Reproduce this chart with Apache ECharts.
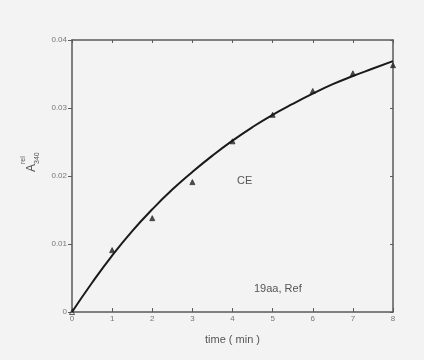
<!DOCTYPE html>
<html>
<head>
<meta charset="utf-8">
<script src="https://cdn.jsdelivr.net/npm/echarts@6/dist/echarts.min.js"></script>
<style>
  html, body { margin: 0; padding: 0; background: #f3f3f3; }
  #chart { width: 424px; height: 360px; }
</style>
</head>
<body>
<div id="chart"></div>
<script>
  // measured points (time in min, absorbance)
  var times = [0, 1, 2, 3, 4, 5, 6, 7, 8];
  var absorb = [0, 0.0091, 0.0138, 0.0191, 0.0251, 0.029, 0.0325, 0.0351, 0.0363];

  // fitted curve
  var fitTimes = [0, 0.5, 1, 1.5, 2, 2.5, 3, 3.5, 4, 4.5, 5, 5.5, 6, 6.5, 7, 7.5, 8];
  var fitValues = [0, 0.0043, 0.0083, 0.0119, 0.0151, 0.018, 0.0206, 0.023, 0.0252,
                   0.0272, 0.029, 0.0306, 0.0321, 0.0335, 0.0347, 0.0358, 0.0369];

  var yTicks = ['0', '0.01', '0.02', '0.03', '0.04'];

  var chart = echarts.init(document.getElementById('chart'));
  var axisColor = '#5a5a5a';
  var labelColor = '#777';

  chart.setOption({
    backgroundColor: '#f3f3f3',
    animation: false,
    grid: { left: 72, right: 31, top: 40, bottom: 48 },
    xAxis: [{
      type: 'value', min: 0, max: 8, interval: 1,
      axisLine: { onZero: false, lineStyle: { color: axisColor, width: 1.5 } },
      axisTick: { inside: true, length: 4, lineStyle: { color: axisColor } },
      axisLabel: { color: labelColor, fontSize: 8, fontFamily: 'Liberation Sans', margin: 3 },
      splitLine: { show: false },
      name: 'time ( min )', nameLocation: 'middle', nameGap: 22,
      nameTextStyle: { color: '#555', fontSize: 11, fontFamily: 'Liberation Sans' }
    }, {
      type: 'value', min: 0, max: 8, interval: 1, position: 'top',
      axisLine: { show: true, onZero: false, lineStyle: { color: axisColor, width: 1.5 } },
      axisTick: { show: true, inside: true, length: 3, lineStyle: { color: axisColor } },
      axisLabel: { show: false }, splitLine: { show: false }
    }],
    yAxis: [{
      type: 'value', min: 0, max: 0.04, interval: 0.01,
      axisLine: { show: true, onZero: false, lineStyle: { color: axisColor, width: 1.5 } },
      axisTick: { show: true, length: 4, lineStyle: { color: axisColor } },
      axisLabel: {
        color: labelColor, fontSize: 8, fontFamily: 'Liberation Sans', margin: 5,
        formatter: function (v, i) { return yTicks[i]; }
      },
      splitLine: { show: false }
    }, {
      type: 'value', min: 0, max: 0.04, interval: 0.01, position: 'right',
      axisLine: { show: true, onZero: false, lineStyle: { color: axisColor, width: 1.5 } },
      axisTick: { show: true, inside: true, length: 3, lineStyle: { color: axisColor } },
      axisLabel: { show: false }, splitLine: { show: false }
    }],
    series: [{
      type: 'line',
      data: fitTimes.map(function (t, i) { return [t, fitValues[i]]; }),
      smooth: true, showSymbol: false,
      lineStyle: { color: '#1a1a1a', width: 2 }
    }, {
      type: 'scatter',
      data: times.map(function (t, i) { return [t, absorb[i]]; }),
      symbol: 'triangle', symbolSize: 5,
      itemStyle: {
        color: function (p) { return p.dataIndex === 0 ? 'rgba(0,0,0,0)' : '#222'; },
        borderColor: '#333', borderWidth: 1
      }
    }],
    graphic: [
      { type: 'text', left: 237, top: 175,
        style: { text: 'CE', fill: '#555', font: '11px Liberation Sans' } },
      { type: 'text', left: 254, top: 283,
        style: { text: '19aa, Ref', fill: '#555', font: '11px Liberation Sans' } },
      { type: 'group', x: 32, y: 172, rotation: Math.PI / 2,
        children: [
          { type: 'text', x: 0, y: -6,
            style: { text: 'A', fill: '#555', font: '12px Liberation Sans' } },
          { type: 'text', x: 8, y: -12,
            style: { text: 'rel', fill: '#555', font: '7px Liberation Sans' } },
          { type: 'text', x: 8, y: 2,
            style: { text: '340', fill: '#555', font: '7px Liberation Sans' } }
        ] }
    ]
  });
</script>
</body>
</html>
